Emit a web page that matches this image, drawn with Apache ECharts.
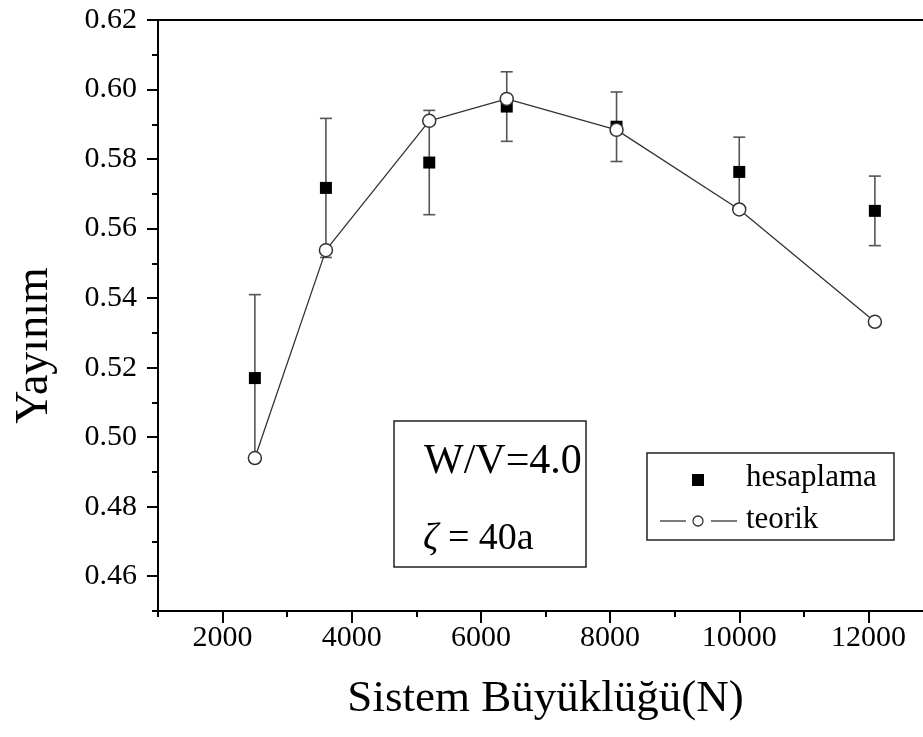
<!DOCTYPE html>
<html>
<head>
<meta charset="utf-8">
<script src="https://cdn.jsdelivr.net/npm/echarts@6/dist/echarts.min.js"></script>
<style>
html,body{margin:0;padding:0;background:#fff;}
#c{width:923px;height:737px;}
</style>
</head>
<body>
<div id="c"></div>
<script>
// ---- data ----
const sizes = [2500, 3600, 5200, 6400, 8100, 10000, 12100];
const hesaplama = [0.517, 0.5717, 0.579, 0.5951, 0.5893, 0.5763, 0.5651];
const hesaplamaErr = [0.024, 0.020, 0.015, 0.010, 0.010, 0.010, 0.010];
const teorik = [0.494, 0.5538, 0.591, 0.5973, 0.5884, 0.5655, 0.5332];
const xTickValues = [2000, 4000, 6000, 8000, 10000, 12000];
const yTickValues = [0.46, 0.48, 0.50, 0.52, 0.54, 0.56, 0.58, 0.60, 0.62];
const xTitle = 'Sistem Büyüklüğü(N)';
const yTitle = 'Yayınım';
const seriesNames = ['hesaplama', 'teorik'];
const noteLine1 = 'W/V=4.0';
const noteLine2 = '40a';

const FONT = '"Liberation Serif","Times New Roman",serif';
const chart = echarts.init(document.getElementById('c'), null, {renderer: 'canvas'});

const hesData = sizes.map((x, i) => [x, hesaplama[i]]);
const teoData = sizes.map((x, i) => [x, teorik[i]]);
const errData = sizes.map((x, i) => [x, hesaplama[i] - hesaplamaErr[i], hesaplama[i] + hesaplamaErr[i]]);

const option = {
  animation: false,
  backgroundColor: '#fff',
  grid: {left: 158, top: 20, width: 775, height: 591, containLabel: false, outerBoundsMode: 'none',
         show: true, borderColor: '#000', borderWidth: 2, backgroundColor: 'transparent'},
  xAxis: [
    {type: 'value', min: 1000, max: 13000, interval: 1000, position: 'bottom',
     axisLine: {show: true, lineStyle: {color: '#000', width: 2}},
     axisTick: {show: true, length: 6, lineStyle: {color: '#000', width: 2}},
     axisLabel: {show: false}, splitLine: {show: false}},
    {type: 'value', min: 1000, max: 13000, position: 'bottom',
     axisLine: {show: false},
     axisTick: {show: true, length: 12, customValues: xTickValues, lineStyle: {color: '#000', width: 2}},
     axisLabel: {show: true, customValues: xTickValues, margin: 12, fontSize: 30, fontFamily: FONT, color: '#000',
                 formatter: v => String(v)},
     splitLine: {show: false},
     name: xTitle, nameLocation: 'middle', nameGap: 66,
     nameTextStyle: {fontSize: 45, fontFamily: FONT, color: '#000'}}
  ],
  yAxis: [
    {type: 'value', min: 0.45, max: 0.62, interval: 0.01, position: 'left',
     axisLine: {show: true, lineStyle: {color: '#000', width: 2}},
     axisTick: {show: true, length: 6, lineStyle: {color: '#000', width: 2}},
     axisLabel: {show: false}, splitLine: {show: false}},
    {type: 'value', min: 0.45, max: 0.62, position: 'left',
     axisLine: {show: false},
     axisTick: {show: true, length: 11, customValues: yTickValues, lineStyle: {color: '#000', width: 2}},
     axisLabel: {show: true, customValues: yTickValues, margin: 21, fontSize: 30, fontFamily: FONT, color: '#000',
                 formatter: v => Number(v).toFixed(2)},
     splitLine: {show: false},
     name: yTitle, nameLocation: 'middle', nameGap: 100, nameRotate: 90,
     nameTextStyle: {fontSize: 46, fontFamily: FONT, color: '#000', padding: [0, 60, 0, 0]}}
  ],
  series: [
    {type: 'custom', name: 'err', xAxisIndex: 0, yAxisIndex: 0, z: 1, data: errData,
     renderItem: function (params, api) {
       const x = api.value(0);
       const lo = api.coord([x, api.value(1)]);
       const hi = api.coord([x, api.value(2)]);
       const hw = 6;
       const st = {stroke: '#555', lineWidth: 1.6};
       return {type: 'group', children: [
         {type: 'line', shape: {x1: lo[0], y1: lo[1], x2: hi[0], y2: hi[1]}, style: st},
         {type: 'line', shape: {x1: hi[0] - hw, y1: hi[1], x2: hi[0] + hw, y2: hi[1]}, style: st},
         {type: 'line', shape: {x1: lo[0] - hw, y1: lo[1], x2: lo[0] + hw, y2: lo[1]}, style: st}
       ]};
     }},
    {type: 'scatter', name: seriesNames[0], xAxisIndex: 0, yAxisIndex: 0, z: 2, data: hesData,
     symbol: 'rect', symbolSize: 12, itemStyle: {color: '#000', opacity: 1}},
    {type: 'line', name: seriesNames[1], xAxisIndex: 0, yAxisIndex: 0, z: 3, data: teoData,
     symbol: 'circle', symbolSize: 13, showAllSymbol: true,
     lineStyle: {color: '#333', width: 1.3},
     itemStyle: {color: '#fff', borderColor: '#333', borderWidth: 1.5, opacity: 1}}
  ],
  graphic: [
    // annotation box
    {type: 'rect', z: 10, shape: {x: 394, y: 421, width: 192, height: 146},
     style: {fill: '#fff', stroke: '#222', lineWidth: 1.5}},
    {type: 'text', z: 11, x: 424, y: 462,
     style: {text: noteLine1, font: '42px ' + FONT, fill: '#000', verticalAlign: 'middle'}},
    {type: 'text', z: 11, x: 423, y: 539,
     style: {text: '{z|ζ} = ' + noteLine2, font: '38px ' + FONT, fill: '#000', verticalAlign: 'middle',
             rich: {z: {fontStyle: 'italic', fontSize: 38, fontFamily: FONT}}}},
    // legend box
    {type: 'rect', z: 10, shape: {x: 647, y: 453, width: 247, height: 87},
     style: {fill: '#fff', stroke: '#222', lineWidth: 1.5}},
    {type: 'rect', z: 11, shape: {x: 692, y: 474, width: 12, height: 12}, style: {fill: '#000'}},
    {type: 'text', z: 11, x: 746, y: 478,
     style: {text: seriesNames[0], font: '31px ' + FONT, fill: '#000', verticalAlign: 'middle'}},
    {type: 'line', z: 11, shape: {x1: 660, y1: 521, x2: 686, y2: 521}, style: {stroke: '#333', lineWidth: 1.3}},
    {type: 'line', z: 11, shape: {x1: 711, y1: 521, x2: 737, y2: 521}, style: {stroke: '#333', lineWidth: 1.3}},
    {type: 'circle', z: 12, shape: {cx: 698, cy: 521, r: 5}, style: {fill: '#fff', stroke: '#333', lineWidth: 1.3}},
    {type: 'text', z: 11, x: 746, y: 520,
     style: {text: seriesNames[1], font: '31px ' + FONT, fill: '#000', verticalAlign: 'middle'}}
  ]
};
chart.setOption(option);
</script>
</body>
</html>
